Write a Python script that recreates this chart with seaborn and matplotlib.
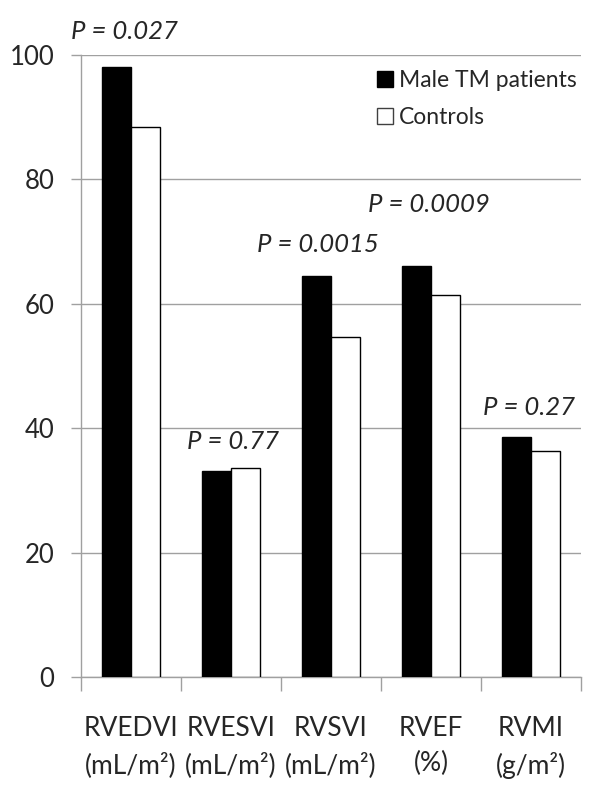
import matplotlib
matplotlib.use("Agg")
import matplotlib.pyplot as plt
import seaborn as sns
import pandas as pd
from matplotlib.patches import Patch

categories = ["RVEDVI\n(mL/m²)", "RVESVI\n(mL/m²)", "RVSVI\n(mL/m²)", "RVEF\n(%)", "RVMI\n(g/m²)"]
groups = ["Male TM patients", "Controls"]
patients = [98.0, 33.1, 64.5, 66.1, 38.6]
controls = [88.4, 33.7, 54.7, 61.5, 36.4]
p_labels = ["P = 0.027", "P = 0.77", "P = 0.0015", "P = 0.0009", "P = 0.27"]
p_x = [-0.06, 1.025, 1.87, 2.98, 3.98]
p_y = [103.7, 37.9, 69.6, 76.0, 43.3]

sns.set_style("white")
plt.rcParams["font.family"] = ["Lato", "DejaVu Sans"]

df = pd.DataFrame({
    "category": categories * 2,
    "group": [groups[0]] * len(categories) + [groups[1]] * len(categories),
    "value": patients + controls,
})

fig = plt.figure(figsize=(6, 8), dpi=100)
ax = fig.add_axes([0.1345, 0.1534, 0.834, 0.778])

sns.barplot(data=df, x="category", y="value", hue="group", order=categories,
            hue_order=groups, palette=["black", "white"], edgecolor="black",
            linewidth=1.0, width=0.58, ax=ax, legend=False, errorbar=None,
            saturation=1, zorder=3)

ax.set_ylim(0, 100)
ax.set_xlim(-0.5, 4.5)
ax.set_yticks([0, 20, 40, 60, 80, 100])
ax.yaxis.grid(True, color="#a0a0a0", linewidth=1.0, zorder=0)
ax.set_axisbelow(True)
for s in ["top", "right"]:
    ax.spines[s].set_visible(False)
for s in ["left", "bottom"]:
    ax.spines[s].set_color("#a0a0a0")
    ax.spines[s].set_linewidth(1.0)

ax.tick_params(axis="y", which="major", length=7, width=1.0, color="#a0a0a0",
               labelsize=18.5, pad=12, left=True)
ax.set_xticks(range(len(categories)))
ax.set_xticklabels(categories)
ax.tick_params(axis="x", which="major", length=0, labelsize=19, pad=28)
ax.set_xticks([i - 0.5 for i in range(len(categories) + 1)], minor=True)
ax.tick_params(axis="x", which="minor", length=10, width=1.0, color="#a0a0a0",
               bottom=True)
for lab in ax.get_xticklabels():
    lab.set_linespacing(1.5)
ax.set_xlabel("")
ax.set_ylabel("")

for t, x, y in zip(p_labels, p_x, p_y):
    ax.text(x, y, t, ha="center", va="center", fontsize=18.5, style="italic",
            clip_on=False)

handles = [Patch(facecolor="black", edgecolor="black", linewidth=1.0),
           Patch(facecolor="white", edgecolor="#404040", linewidth=1.0)]
leg = ax.legend(handles, groups, loc="upper right", bbox_to_anchor=(1.01, 0.99),
                frameon=False, fontsize=16.5, handlelength=0.7, handleheight=0.7,
                handletextpad=0.25, labelspacing=0.7, borderaxespad=0.0)

fig.savefig("out.png", dpi=100)
